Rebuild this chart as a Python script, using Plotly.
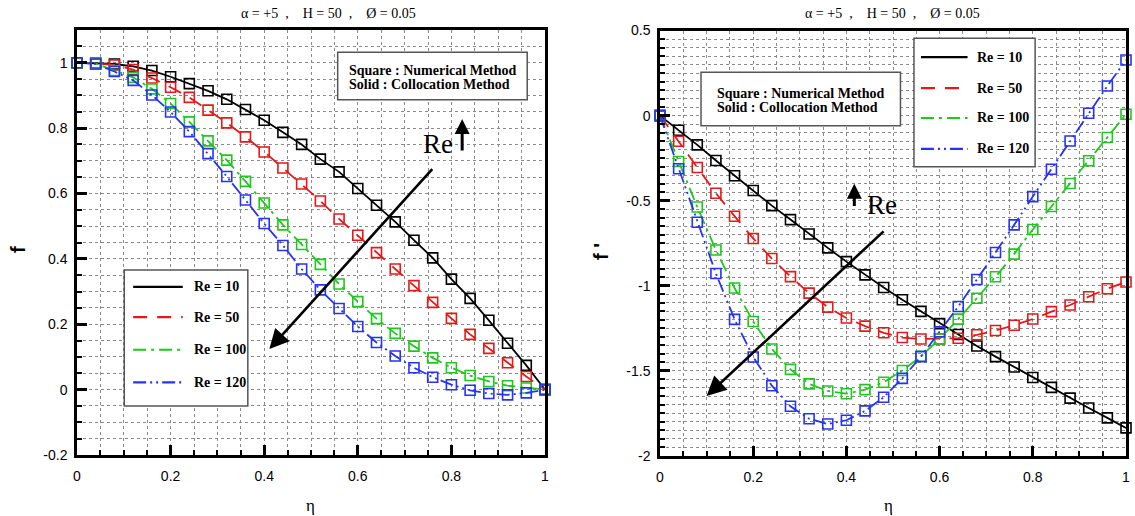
import plotly.graph_objects as go

# ---------------- data ----------------
eta = [0.0, 0.04, 0.08, 0.12, 0.16, 0.2, 0.24, 0.28, 0.32, 0.36, 0.4, 0.44, 0.48,
       0.52, 0.56, 0.6, 0.64, 0.68, 0.72, 0.76, 0.8, 0.84, 0.88, 0.92, 0.96, 1.0]

series_names = ["Re = 10", "Re = 50", "Re = 100", "Re = 120"]

f_re10 = [1.0, 0.998, 0.996, 0.989, 0.976, 0.957, 0.936, 0.914, 0.888, 0.857, 0.824, 0.787,
          0.75, 0.705, 0.666, 0.615, 0.564, 0.513, 0.457, 0.403, 0.338, 0.279, 0.212, 0.142, 0.074, 0.0]
f_re50 = [1.0, 0.998, 0.993, 0.979, 0.953, 0.925, 0.894, 0.855, 0.816, 0.773, 0.727, 0.678,
          0.629, 0.577, 0.522, 0.472, 0.419, 0.369, 0.318, 0.267, 0.218, 0.169, 0.126, 0.082, 0.04, 0.0]
f_re100 = [1.0, 0.997, 0.976, 0.955, 0.92, 0.875, 0.819, 0.761, 0.702, 0.637, 0.571, 0.504,
           0.444, 0.383, 0.323, 0.269, 0.217, 0.172, 0.133, 0.097, 0.067, 0.043, 0.025, 0.012, 0.005, 0.0]
f_re120 = [1.0, 0.996, 0.973, 0.946, 0.901, 0.849, 0.789, 0.722, 0.652, 0.58, 0.508, 0.441,
           0.369, 0.305, 0.248, 0.193, 0.144, 0.103, 0.067, 0.038, 0.015, -0.002, -0.012, -0.016, -0.01, 0.0]

fp_re10 = [0.0, -0.086, -0.172, -0.264, -0.353, -0.44, -0.529, -0.611, -0.696, -0.777, -0.858, -0.936,
           -1.01, -1.082, -1.15, -1.222, -1.286, -1.354, -1.416, -1.477, -1.539, -1.597, -1.66, -1.718, -1.776, -1.835]
fp_re50 = [0.0, -0.151, -0.305, -0.456, -0.591, -0.722, -0.84, -0.946, -1.043, -1.125, -1.189, -1.237,
           -1.276, -1.304, -1.313, -1.312, -1.308, -1.288, -1.263, -1.232, -1.195, -1.152, -1.113, -1.064, -1.017, -0.978]
fp_re100 = [0.0, -0.27, -0.537, -0.79, -1.013, -1.21, -1.371, -1.491, -1.576, -1.618, -1.634, -1.61,
            -1.567, -1.498, -1.414, -1.312, -1.196, -1.073, -0.947, -0.814, -0.669, -0.534, -0.399, -0.265, -0.129, 0.008]
fp_re120 = [0.0, -0.312, -0.627, -0.928, -1.197, -1.418, -1.587, -1.708, -1.781, -1.812, -1.79, -1.735,
            -1.655, -1.544, -1.416, -1.271, -1.122, -0.963, -0.804, -0.642, -0.476, -0.315, -0.149, 0.014, 0.174, 0.327]

left_series = [f_re10, f_re50, f_re100, f_re120]
right_series = [fp_re10, fp_re50, fp_re100, fp_re120]

x_ticks = [0, 0.2, 0.4, 0.6, 0.8, 1.0]
x_ticktext = ["0", "0.2", "0.4", "0.6", "0.8", "1"]
yl_ticks = [-0.2, 0, 0.2, 0.4, 0.6, 0.8, 1.0]
yl_ticktext = ["-0.2", "0", "0.2", "0.4", "0.6", "0.8", "1"]
yr_ticks = [-2, -1.5, -1, -0.5, 0, 0.5]
yr_ticktext = ["-2", "-1.5", "-1", "-0.5", "0", "0.5"]

SP = "\u2002"
title_text = f"α = +5{SP},{SP}{SP}H = 50{SP},{SP}{SP}Ø = 0.05"

# ---------------- styles ----------------
colors = ["#000000", "#e3191b", "#1ec81e", "#2633f5"]
dashes = ["solid", "14px,10px", "13px,5px,3px,5px", "13px,4px,2px,4px,2px,4px"]

fig = go.Figure()

for vals, name, c, d in zip(left_series, series_names, colors, dashes):
    fig.add_trace(go.Scatter(x=eta, y=vals, mode="lines+markers", name=name,
                             line=dict(color=c, width=1.8, dash=d),
                             marker=dict(symbol="square-open", size=10, color=c, line=dict(width=1.6, color=c)),
                             xaxis="x", yaxis="y", showlegend=False, cliponaxis=False))
for vals, name, c, d in zip(right_series, series_names, colors, dashes):
    fig.add_trace(go.Scatter(x=eta, y=vals, mode="lines+markers", name=name,
                             line=dict(color=c, width=1.8, dash=d),
                             marker=dict(symbol="square-open", size=10, color=c, line=dict(width=1.6, color=c)),
                             xaxis="x2", yaxis="y2", showlegend=False, cliponaxis=False))

W, H = 1135, 516
tickfont = dict(family="Liberation Sans, Arial, sans-serif", size=14, color="black")

def xax(domain, anchor):
    return dict(domain=domain, anchor=anchor, range=[0, 1], tickmode="array",
                tickvals=x_ticks, ticktext=x_ticktext, tickfont=tickfont, automargin=False,
                ticks="inside", ticklen=10, tickwidth=2.5, tickcolor="black",
                showline=True, linewidth=2.5, linecolor="black", mirror=True,
                showgrid=True, gridcolor="#8a8a8a", griddash="dot", gridwidth=1,
                zeroline=False, ticklabelstandoff=6,
                minor=dict(dtick=0.05, tick0=0, ticks="inside", ticklen=5, tickwidth=1.5,
                           tickcolor="black", showgrid=True, gridcolor="#8a8a8a",
                           griddash="dot", gridwidth=1))

def yax(domain, anchor, rng, tv, tt):
    return dict(domain=domain, anchor=anchor, range=rng, tickmode="array",
                tickvals=tv, ticktext=tt, tickfont=tickfont, automargin=False,
                ticks="inside", ticklen=10, tickwidth=2.5, tickcolor="black",
                showline=True, linewidth=2.5, linecolor="black", mirror=True,
                showgrid=True, gridcolor="#8a8a8a", griddash="dot", gridwidth=1,
                zeroline=False, ticklabelstandoff=4,
                minor=dict(dtick=0.05, tick0=0, ticks="inside", ticklen=5, tickwidth=1.5,
                           tickcolor="black", showgrid=True, gridcolor="#8a8a8a",
                           griddash="dot", gridwidth=1))

fig.update_layout(
    template="none",
    width=W, height=H, margin=dict(l=0, r=0, t=0, b=0, autoexpand=False),
    paper_bgcolor="white", plot_bgcolor="white",
    xaxis=xax([77 / W, 545 / W], "y"),
    yaxis=yax([1 - 455 / H, 1 - 30 / H], "x", [-0.2, 1.1], yl_ticks, yl_ticktext),
    xaxis2=xax([660 / W, 1126 / W], "y2"),
    yaxis2=yax([1 - 456 / H, 1 - 30.5 / H], "x2", [-2, 0.5], yr_ticks, yr_ticktext),
)

serif = "Liberation Serif, Times New Roman, serif"
ann = []
shapes = []

# titles
for xc in [328, 892]:
    ann.append(dict(text=title_text, x=xc / W, y=1 - 13 / H, xref="paper", yref="paper",
                    xanchor="center", yanchor="middle",
                    showarrow=False, font=dict(family=serif, size=14, color="black")))
# axis titles
for xc in [310, 888]:
    ann.append(dict(text="η", x=xc / W, y=1 - 505 / H, xref="paper", yref="paper",
                    xanchor="center", yanchor="middle",
                    showarrow=False, font=dict(family=serif, size=17, color="black")))
ann.append(dict(text="<b>f</b>", x=18 / W, y=1 - 250 / H, xref="paper", yref="paper", textangle=-90,
                xanchor="center", yanchor="middle",
                showarrow=False, font=dict(family="Liberation Sans, Arial, sans-serif", size=20, color="black")))
ann.append(dict(text="<b>f '</b>", x=601 / W, y=1 - 252 / H, xref="paper", yref="paper", textangle=-90,
                xanchor="center", yanchor="middle",
                showarrow=False, font=dict(family="Liberation Sans, Arial, sans-serif", size=20, color="black")))

# text boxes
def textbox(xr, yr, x0, x1, y0, y1, tx, ty1, ty2):
    shapes.append(dict(type="rect", xref=xr, yref=yr, x0=x0, x1=x1, y0=y0, y1=y1,
                       line=dict(color="#555555", width=1.5), fillcolor="white", layer="above"))
    for t, yy in [("Square : Numerical Method", ty1), ("Solid : Collocation Method", ty2)]:
        ann.append(dict(text="<b>" + t + "</b>", x=tx, y=yy, xref=xr, yref=yr, xanchor="left",
                        showarrow=False, font=dict(family=serif, size=14, color="black")))

textbox("x", "y", 0.557, 0.962, 0.887, 1.032, 0.576, 0.976, 0.932)
textbox("x2", "y2", 0.088, 0.516, -0.06, 0.254, 0.119, 0.132, 0.05)

# legends
def legend(xr, yr, box, lx0, lx1, tx, ys):
    shapes.append(dict(type="rect", xref=xr, yref=yr, x0=box[0], x1=box[1], y0=box[2], y1=box[3],
                       line=dict(color="#555555", width=1.5), fillcolor="white", layer="above"))
    for name, c, d, yy in zip(series_names, colors, dashes, ys):
        shapes.append(dict(type="line", xref=xr, yref=yr, x0=lx0, x1=lx1, y0=yy, y1=yy,
                           line=dict(color=c, width=2.2, dash=d), layer="above"))
        ann.append(dict(text="<b>" + name + "</b>", x=tx, y=yy, xref=xr, yref=yr, xanchor="left",
                        showarrow=False, font=dict(family=serif, size=14, color="black")))

legend("x", "y", [0.101, 0.365, -0.05, 0.366], 0.12, 0.226, 0.245,
       [0.314, 0.222, 0.122, 0.022])
legend("x2", "y2", [0.545, 0.805, -0.3, 0.455], 0.56, 0.66, 0.675,
       [0.344, 0.162, -0.014, -0.196])

# Re arrows (left)
ann.append(dict(x=0.411, y=0.124, ax=0.762, ay=0.679, xref="x", yref="y", axref="x", ayref="y",
                showarrow=True, arrowhead=2, arrowsize=1.5, arrowwidth=2.6, arrowcolor="black",
                standoff=0, text=""))
ann.append(dict(text="Re", x=0.771, y=0.752, xref="x", yref="y", showarrow=False,
                font=dict(family=serif, size=27, color="black")))
ann.append(dict(x=0.823, y=0.828, ax=0.823, ay=0.727, xref="x", yref="y", axref="x", ayref="y",
                showarrow=True, arrowhead=2, arrowsize=1.0, arrowwidth=3, arrowcolor="black",
                standoff=0, text=""))
# Re arrows (right)
ann.append(dict(x=0.10, y=-1.647, ax=0.483, ay=-0.672, xref="x2", yref="y2", axref="x2", ayref="y2",
                showarrow=True, arrowhead=2, arrowsize=1.5, arrowwidth=2.6, arrowcolor="black",
                standoff=0, text=""))
ann.append(dict(text="Re", x=0.476, y=-0.525, xref="x2", yref="y2", showarrow=False,
                font=dict(family=serif, size=27, color="black")))
ann.append(dict(x=0.417, y=-0.4, ax=0.417, ay=-0.54, xref="x2", yref="y2", axref="x2", ayref="y2",
                showarrow=True, arrowhead=2, arrowsize=1.0, arrowwidth=3, arrowcolor="black",
                standoff=0, text=""))

fig.update_layout(annotations=ann, shapes=shapes)
fig.write_html("out.html", config={"displayModeBar": False},
               post_script="document.body.style.margin='0';document.body.style.overflow='hidden';")
